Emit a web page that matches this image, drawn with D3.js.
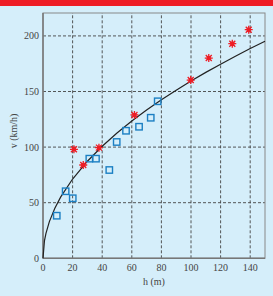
<!DOCTYPE html>
<html><head><meta charset="utf-8">
<script src="https://cdn.jsdelivr.net/npm/d3@7"></script>
<style>
html,body{margin:0;padding:0;background:#d5eefa;}
svg{display:block;}
text{font-family:"Liberation Serif","DejaVu Serif",serif;fill:#444;}
</style></head>
<body>
<script>
// measured data (open blue squares)
const squareH = [9.3, 15.3, 20.1, 31.3, 35.8, 44.8, 49.8, 56.1, 64.9, 72.8, 77.5];
const squareV = [38.3, 60.3, 54, 89.6, 89.6, 79.4, 104.6, 114.7, 118.3, 126.4, 141.2];
// red star points
const starH = [20.9, 27.2, 37.8, 61.8, 99.8, 112, 127.9, 139];
const starV = [98, 83.9, 99.5, 128.9, 160.3, 180.1, 193, 205.6];
// curve
const curveH = [0, 1, 2, 4.3, 8, 12, 20, 30, 40, 50, 60, 70, 80, 90, 100, 110, 120, 130, 140, 150];
const curveV = [0, 16, 22.5, 33, 45, 55.2, 71.3, 87.3, 100.8, 112.7, 123.5, 133.4, 142.6, 151.2, 159.4, 167.2, 174.6, 181.7, 188.6, 195.2];
const xTicks = [0, 20, 40, 60, 80, 100, 120, 140];
const yTicks = [0, 50, 100, 150, 200];

const W = 273, H = 296;
const svg = d3.select("body").append("svg").attr("width", W).attr("height", H);
svg.append("rect").attr("x",0).attr("y",0).attr("width",W).attr("height",H).attr("fill","#d5eefa");
svg.append("rect").attr("x",0).attr("y",0).attr("width",W).attr("height",6).attr("fill","#ee1c25");

const x = d3.scaleLinear().domain([0,150]).range([43,265]);
const y = d3.scaleLinear().domain([0,220.6]).range([258.3,13]);

// grid
svg.append("g").selectAll("line").data(xTicks.filter(d=>d>0)).join("line")
  .attr("x1",d=>x(d)).attr("x2",d=>x(d)).attr("y1",y(0)).attr("y2",13)
  .attr("stroke","#444").attr("stroke-width",0.9).attr("stroke-dasharray","3,2");
svg.append("g").selectAll("line").data(yTicks.filter(d=>d>0)).join("line")
  .attr("x1",x(0)).attr("x2",265).attr("y1",d=>y(d)).attr("y2",d=>y(d))
  .attr("stroke","#444").attr("stroke-width",0.9).attr("stroke-dasharray","3,2");

// frame
svg.append("rect").attr("x",x(0)).attr("y",13).attr("width",265-x(0)).attr("height",y(0)-13)
  .attr("fill","none").attr("stroke","#888").attr("stroke-width",1);
svg.append("line").attr("x1",x(0)).attr("x2",x(0)).attr("y1",13).attr("y2",y(0)).attr("stroke","#777").attr("stroke-width",1.5);
svg.append("line").attr("x1",x(0)).attr("x2",265).attr("y1",y(0)).attr("y2",y(0)).attr("stroke","#777").attr("stroke-width",1.5);

// tick labels
svg.append("g").selectAll("text").data(xTicks).join("text")
  .attr("x",d=>x(d)).attr("y",271).attr("text-anchor","middle").attr("font-size",10).text(d=>d);
svg.append("g").selectAll("text").data(yTicks).join("text")
  .attr("x",39).attr("y",d=>y(d)+3.5).attr("text-anchor","end").attr("font-size",10).text(d=>d);

svg.append("text").attr("x",154).attr("y",285).attr("text-anchor","middle").attr("font-size",10).text("h (m)");
svg.append("text").attr("transform","translate(16.5,131) rotate(-90)").attr("text-anchor","middle").attr("font-size",10).text("v (km/h)");

// curve
const line = d3.line().x(d=>x(d[0])).y(d=>y(d[1]));
svg.append("path").datum(curveH.map((h,i)=>[h,curveV[i]])).attr("d",line)
  .attr("fill","none").attr("stroke","#222").attr("stroke-width",1.2);

// squares
svg.append("g").selectAll("rect").data(squareH.map((h,i)=>[h,squareV[i]])).join("rect")
  .attr("x",d=>x(d[0])-3.2).attr("y",d=>y(d[1])-3.2).attr("width",6.4).attr("height",6.4)
  .attr("fill","none").attr("stroke","#1b7fc3").attr("stroke-width",1.4);

// stars
const sg = svg.append("g").selectAll("g").data(starH.map((h,i)=>[h,starV[i]])).join("g")
  .attr("transform",d=>`translate(${x(d[0])},${y(d[1])})`);
sg.append("rect").attr("x",-2).attr("y",-2).attr("width",4).attr("height",4).attr("fill","#ee1c25");
sg.append("path").attr("d","M-4,0H4M0,-4V4M-3,-3L3,3M-3,3L3,-3").attr("stroke","#ee1c25").attr("stroke-width",1.3);
</script>
</body></html>
